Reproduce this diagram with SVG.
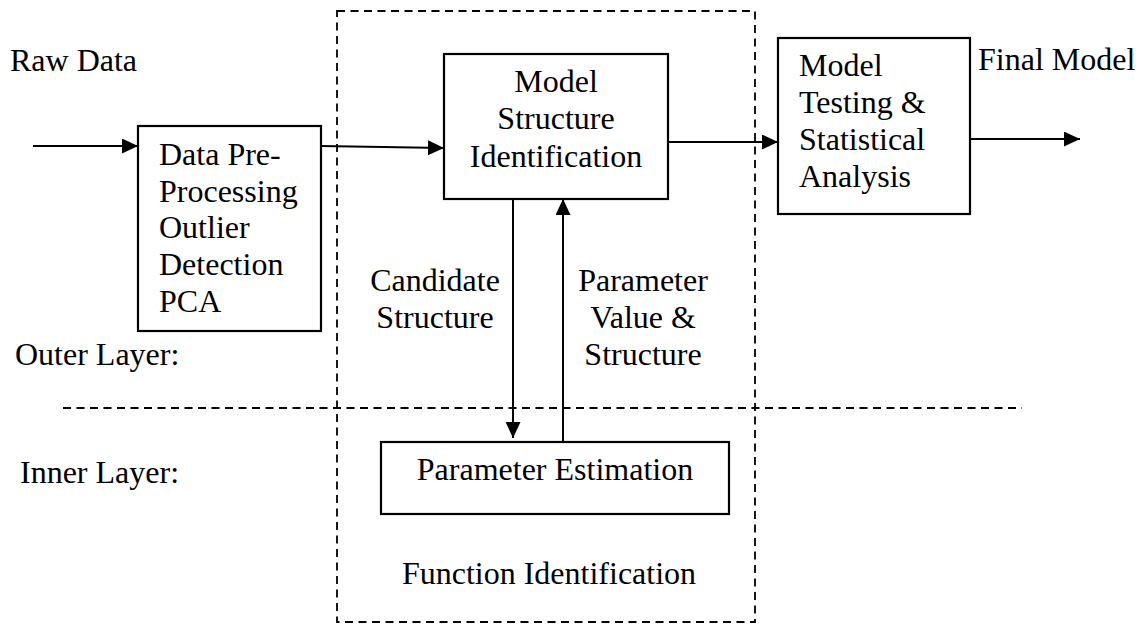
<svg xmlns="http://www.w3.org/2000/svg" width="1143" height="625" viewBox="0 0 1143 625">
  <style>
    text { font-family: "Liberation Serif", "Times New Roman", serif; font-size: 32px; fill: #000; }
    .box { fill: #fff; stroke: #000; stroke-width: 2.2; }
    .dash { fill: none; stroke: #000; stroke-width: 1.8; stroke-dasharray: 8 5.5; }
    .wire { fill: none; stroke: #000; stroke-width: 2; }
    .mid { text-anchor: middle; }
  </style>
  <defs>
    <marker id="arrow" viewBox="0 0 16 15" refX="16" refY="7.5" markerWidth="16" markerHeight="15" markerUnits="userSpaceOnUse" orient="auto">
      <path d="M0,0 L16,7.5 L0,15 Z" fill="#000"/>
    </marker>
  </defs>

  <rect id="bg" x="0" y="0" width="1143" height="625" fill="#fff"/>

  <!-- layer boundaries -->
  <g id="frames">
    <rect class="dash" x="337" y="11" width="418" height="611"/>
    <line class="dash" x1="63" y1="408" x2="1022" y2="408"/>
  </g>

  <!-- free labels -->
  <g id="labels">
    <text x="10" y="71">Raw Data</text>
    <text x="978" y="70">Final Model</text>
    <text x="15" y="365">Outer Layer:</text>
    <text x="20" y="483">Inner Layer:</text>
    <text class="mid" x="435" y="291">Candidate</text>
    <text class="mid" x="435" y="328">Structure</text>
    <text class="mid" x="643" y="291">Parameter</text>
    <text class="mid" x="643" y="328">Value &amp;</text>
    <text class="mid" x="643" y="365">Structure</text>
    <text class="mid" x="549" y="584">Function Identification</text>
  </g>

  <g id="preprocessing">
    <rect class="box" x="138" y="126" width="183" height="205"/>
    <text x="159" y="165">Data Pre-</text>
    <text x="159" y="202">Processing</text>
    <text x="159" y="238">Outlier</text>
    <text x="159" y="275">Detection</text>
    <text x="159" y="312">PCA</text>
  </g>

  <g id="structure-identification">
    <rect class="box" x="444" y="54" width="224" height="145"/>
    <text class="mid" x="556" y="92">Model</text>
    <text class="mid" x="556" y="129">Structure</text>
    <text class="mid" x="556" y="167">Identification</text>
  </g>

  <g id="testing">
    <rect class="box" x="778" y="38" width="192" height="176"/>
    <text x="799" y="76">Model</text>
    <text x="799" y="113">Testing &amp;</text>
    <text x="799" y="150">Statistical</text>
    <text x="799" y="187">Analysis</text>
  </g>

  <g id="estimation">
    <rect class="box" x="381" y="442" width="348" height="72"/>
    <text class="mid" x="555" y="480">Parameter Estimation</text>
  </g>

  <g id="connectors">
    <line class="wire" x1="33" y1="146" x2="138" y2="146" marker-end="url(#arrow)"/>
    <line class="wire" x1="321" y1="146" x2="444" y2="148" marker-end="url(#arrow)"/>
    <line class="wire" x1="668" y1="142" x2="778" y2="142" marker-end="url(#arrow)"/>
    <line class="wire" x1="970" y1="139" x2="1080" y2="139" stroke-width="2.6" marker-end="url(#arrow)"/>
    <line class="wire" x1="513" y1="199" x2="513" y2="438" marker-end="url(#arrow)"/>
    <line class="wire" x1="563" y1="442" x2="563" y2="199" marker-end="url(#arrow)"/>
  </g>
</svg>
